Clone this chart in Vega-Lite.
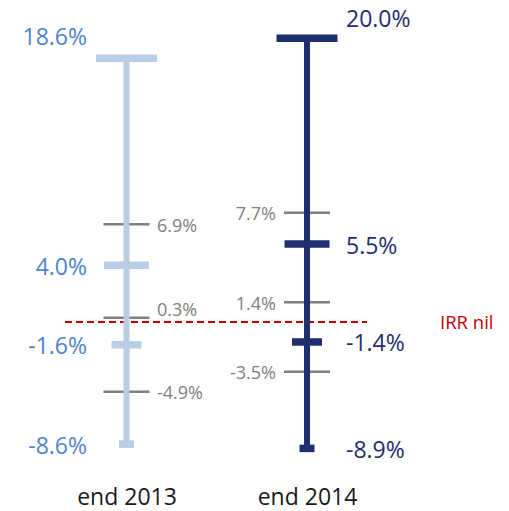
{
  "$schema": "https://vega.github.io/schema/vega-lite/v6.json",
  "width": 509,
  "height": 464,
  "autosize": {"type": "none"},
  "padding": {"left": 0, "top": 0, "right": 0, "bottom": 47},
  "data": {
    "values": [
      {"period": "end 2013", "kind": "main", "stat": "max", "value": 0.186},
      {"period": "end 2013", "kind": "main", "stat": "upper", "value": 0.04},
      {"period": "end 2013", "kind": "main", "stat": "lower", "value": -0.016},
      {"period": "end 2013", "kind": "main", "stat": "min", "value": -0.086},
      {"period": "end 2013", "kind": "q", "stat": "q75", "value": 0.069},
      {"period": "end 2013", "kind": "q", "stat": "q50", "value": 0.003},
      {"period": "end 2013", "kind": "q", "stat": "q25", "value": -0.049},
      {"period": "end 2014", "kind": "main", "stat": "max", "value": 0.2},
      {"period": "end 2014", "kind": "main", "stat": "upper", "value": 0.055},
      {"period": "end 2014", "kind": "main", "stat": "lower", "value": -0.014},
      {"period": "end 2014", "kind": "main", "stat": "min", "value": -0.089},
      {"period": "end 2014", "kind": "q", "stat": "q75", "value": 0.077},
      {"period": "end 2014", "kind": "q", "stat": "q50", "value": 0.014},
      {"period": "end 2014", "kind": "q", "stat": "q25", "value": -0.035}
    ]
  },
  "encoding": {
    "x": {"field": "period", "type": "nominal", "title": null, "scale": {"type": "point", "range": [126.5, 307], "padding": 0}},
    "y": {"field": "value", "type": "quantitative", "axis": null, "scale": {"domain": [-0.1, 0.227], "nice": false, "zero": false}}
  },
  "layer": [
    {
      "data": {"values": [{"v": 0}]},
      "mark": {"type": "rule", "color": "#c00000", "strokeWidth": 2, "strokeDash": [7, 4], "xOffset": -61.5, "x2Offset": 60},
      "encoding": {
        "x": {"datum": "end 2013", "type": "nominal", "title": null},
        "x2": {"datum": "end 2014"},
        "y": {"field": "v", "type": "quantitative", "axis": null}
      }
    },
    {
      "data": {"values": [{"v": 0}]},
      "mark": {"type": "text", "text": "IRR nil", "align": "left", "baseline": "middle", "dx": 133, "dy": 1, "font": "Open Sans", "fontSize": 18.5, "color": "#c00000"},
      "encoding": {
        "x": {"datum": "end 2014", "type": "nominal", "title": null},
        "y": {"field": "v", "type": "quantitative", "axis": null}
      }
    },
    {
      "transform": [{"filter": "datum.kind == 'q'"}],
      "mark": {"type": "tick", "color": "#7f7f7f", "thickness": 2.5, "size": 46, "opacity": 1}
    },
    {
      "transform": [
        {"filter": "datum.kind == 'main'"},
        {"aggregate": [{"op": "min", "field": "value", "as": "lo"}, {"op": "max", "field": "value", "as": "hi"}], "groupby": ["period"]}
      ],
      "mark": {"type": "rule", "strokeWidth": 6, "opacity": 1},
      "encoding": {
        "y": {"field": "lo", "type": "quantitative", "axis": null},
        "y2": {"field": "hi"},
        "color": {"field": "period", "type": "nominal", "legend": null, "scale": {"domain": ["end 2013", "end 2014"], "range": ["#b9cde5", "#1f2e6e"]}}
      }
    },
    {
      "transform": [{"filter": "datum.kind == 'main'"}],
      "mark": {"type": "tick", "thickness": 7.5, "opacity": 1},
      "encoding": {
        "size": {"field": "stat", "type": "ordinal", "legend": null, "scale": {"type": "ordinal", "domain": ["max", "upper", "lower", "min"], "range": [61, 45, 30, 15]}},
        "color": {"field": "period", "type": "nominal", "legend": null, "scale": {"domain": ["end 2013", "end 2014"], "range": ["#b9cde5", "#1f2e6e"]}}
      }
    },
    {
      "transform": [{"filter": "datum.period == 'end 2013' && datum.kind == 'main' && datum.stat != 'max'"}],
      "mark": {"type": "text", "align": "right", "baseline": "middle", "dx": -39.5, "dy": 2.5, "font": "Open Sans", "fontSize": 23, "color": "#4d84cc"},
      "encoding": {"text": {"field": "value", "type": "quantitative", "format": ".1%"}}
    },
    {
      "transform": [{"filter": "datum.period == 'end 2013' && datum.stat == 'max'"}],
      "mark": {"type": "text", "align": "right", "baseline": "middle", "dx": -39.5, "dy": -20, "font": "Open Sans", "fontSize": 23, "color": "#4d84cc"},
      "encoding": {"text": {"field": "value", "type": "quantitative", "format": ".1%"}}
    },
    {
      "transform": [{"filter": "datum.period == 'end 2014' && datum.kind == 'main' && datum.stat != 'max'"}],
      "mark": {"type": "text", "align": "left", "baseline": "middle", "dx": 39, "dy": 2.5, "font": "Open Sans", "fontSize": 23, "color": "#1f2e6e"},
      "encoding": {"text": {"field": "value", "type": "quantitative", "format": ".1%"}}
    },
    {
      "transform": [{"filter": "datum.period == 'end 2014' && datum.stat == 'max'"}],
      "mark": {"type": "text", "align": "left", "baseline": "middle", "dx": 39, "dy": -18, "font": "Open Sans", "fontSize": 23, "color": "#1f2e6e"},
      "encoding": {"text": {"field": "value", "type": "quantitative", "format": ".1%"}}
    },
    {
      "transform": [{"filter": "datum.period == 'end 2013' && datum.kind == 'q' && datum.stat != 'q50'"}],
      "mark": {"type": "text", "align": "left", "baseline": "middle", "dx": 30.5, "dy": 2.5, "font": "Open Sans", "fontSize": 18, "color": "#7f7f7f"},
      "encoding": {"text": {"field": "value", "type": "quantitative", "format": ".1%"}}
    },
    {
      "transform": [{"filter": "datum.period == 'end 2013' && datum.stat == 'q50'"}],
      "mark": {"type": "text", "align": "left", "baseline": "middle", "dx": 30.5, "dy": -7, "font": "Open Sans", "fontSize": 18, "color": "#7f7f7f"},
      "encoding": {"text": {"field": "value", "type": "quantitative", "format": ".1%"}}
    },
    {
      "transform": [{"filter": "datum.period == 'end 2014' && datum.kind == 'q'"}],
      "mark": {"type": "text", "align": "right", "baseline": "middle", "dx": -31, "dy": 2.5, "font": "Open Sans", "fontSize": 18, "color": "#7f7f7f"},
      "encoding": {"text": {"field": "value", "type": "quantitative", "format": ".1%"}}
    }
  ],
  "config": {
    "view": {"stroke": null},
    "locale": {"number": {"decimal": ".", "thousands": ",", "grouping": [3], "currency": ["$", ""], "minus": "-"}},
    "axisX": {"domain": false, "ticks": false, "tickSize": 0, "grid": false, "labelFontSize": 23, "labelFont": "Open Sans", "labelColor": "#1a1a1a", "labelPadding": 22, "labelAngle": 0}
  }
}
